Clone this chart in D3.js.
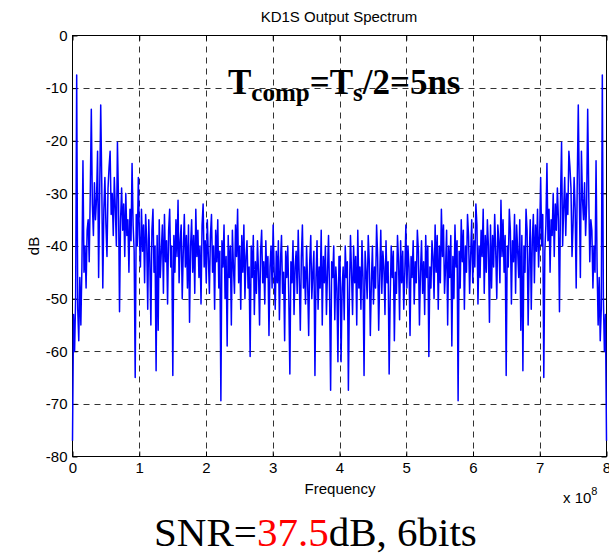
<!DOCTYPE html>
<html><head><meta charset="utf-8">
<script src="https://cdn.jsdelivr.net/npm/d3@7"></script>
<style>html,body{margin:0;padding:0;background:#fff;} svg{display:block}</style>
</head><body><div id="chart"></div>
<script>
// Spectrum magnitude (dB), first half of the bins (0 .. 4e8 Hz)
const dbLow = [
 -77, -53, -60, -50, -7.5, -52, -58, -46, -55, -44, -23.8, -45, -40, -48, -37, -35,
 -43, -30, -14, -32, -38, -28, -35, -31, -22, -46, -30, -13.2, -28, -48, -33, -27,
 -36, -42, -29, -25, -22, -34, -30, -38, -27, -33, -40, -20.3, -31, -52.5, -35, -29,
 -37, -32, -42, -30, -38, -35, -45, -33, -39, -24.3, -36, -41, -65, -34, -40, -27,
 -38, -44, -33, -41, -36, -47, -34, -39, -52, -35, -43, -55, -37, -33, -45, -40,
 -63.7, -38, -56, -35, -46, -41, -36, -49, -34, -43, -39, -51, -37, -33, -44, -40,
 -64.6, -38, -45, -35, -42, -31.3, -47, -39, -36, -50, -41, -34, -44, -38, -48, -36,
 -54.5, -40, -35, -45, -38, -49, -33, -42, -37, -46, -40, -51, -36, -32, -44, -39,
 -47, -35, -42, -49, -38, -34, -45, -40, -52, -37, -43, -35, -48, -41, -69.4, -39,
 -44, -36, -50, -42, -59, -38, -46, -40, -55, -37, -44, -49, -36, -42, -33, -47,
 -40, -52, -38, -45, -36, -50, -42, -39, -48, -44, -61, -40, -46, -38, -53, -43,
 -49, -39, -45, -55, -41, -37, -47, -43, -51, -39, -46, -42, -57, -44, -40, -48,
 -36, -45, -52, -41, -47, -39, -54, -43, -38, -49, -45, -58, -41, -46, -40, -50,
 -64.3, -43, -47, -39, -53, -44, -41, -49, -37, -46, -56, -42, -36, -48, -44, -51,
 -40, -47, -57, -43, -38, -50, -45, -41, -64.6, -46, -39, -52, -44, -48, -37, -55,
 -42, -47, -40, -53, -45, -38, -49, -67.4, -43, -46, -40, -54, -44, -48, -62, -42
];
// Spectrum magnitude (dB), second half of the bins (4e8 .. 8e8 Hz)
const dbHigh = [
 -42, -62, -48, -44, -54, -40, -46, -43, -67.4, -49, -38, -45, -53, -40, -47, -42,
 -55, -37, -48, -44, -52, -39, -46, -64.6, -41, -45, -50, -38, -43, -57, -47, -40,
 -51, -44, -48, -36, -42, -56, -46, -37, -49, -41, -44, -53, -39, -47, -43, -64.3,
 -50, -40, -46, -41, -58, -45, -49, -38, -43, -54, -39, -47, -41, -52, -45, -36,
 -48, -40, -44, -57, -42, -46, -39, -51, -43, -47, -37, -41, -55, -45, -39, -49,
 -43, -53, -38, -46, -40, -61, -44, -48, -39, -42, -50, -36, -45, -38, -52, -40,
 -47, -33, -42, -36, -49, -44, -37, -55, -40, -46, -38, -59, -42, -50, -36, -44,
 -39, -69.4, -41, -48, -35, -43, -37, -52, -40, -45, -34, -38, -49, -42, -35, -47,
 -39, -44, -32, -36, -51, -40, -46, -37, -42, -33, -49, -38, -45, -35, -40, -54.5,
 -36, -48, -38, -44, -34, -41, -50, -36, -39, -47, -31.3, -42, -35, -45, -38, -64.6,
 -40, -44, -33, -37, -51, -39, -43, -34, -49, -36, -41, -46, -35, -56, -38, -63.7,
 -40, -45, -33, -37, -55, -43, -35, -52, -39, -34, -47, -36, -41, -33, -44, -38,
 -27, -40, -34, -65, -41, -36, -24.3, -39, -33, -45, -35, -38, -30, -42, -32, -37,
 -29, -35, -52.5, -31, -20.3, -40, -33, -27, -38, -30, -34, -22, -25, -29, -42, -36,
 -27, -33, -48, -28, -13.2, -30, -46, -22, -31, -35, -28, -38, -32, -14, -30, -43,
 -35, -37, -48, -40, -45, -23.8, -44, -55, -46, -58, -52, -7.5, -50, -60, -53, -77
];
const xTicks = [0, 1, 2, 3, 4, 5, 6, 7, 8];
const yTicks = [0, -10, -20, -30, -40, -50, -60, -70, -80];
const titleText = "KD1S Output Spectrum";
const xLabel = "Frequency";
const yLabel = "dB";

const W = 609, H = 554;
const svg = d3.select("#chart").append("svg").attr("width", W).attr("height", H)
  .style("font-family", "'Liberation Sans', Arial, sans-serif");
svg.append("rect").attr("width", W).attr("height", H).attr("fill", "#fff");

const L = 72.5, R = 606.5, T = 35.5, B = 456.5;
const x = d3.scaleLinear().domain([0, 8]).range([L, R]);
const y = d3.scaleLinear().domain([-80, 0]).range([B, T]);

const spectrum = dbLow.concat(dbHigh);
const n = spectrum.length;
const pts = spectrum.map((v, i) => ({f: i * 8 / (n - 1), v}));

// grid
const grid = svg.append("g").attr("stroke", "#333").attr("stroke-width", 1).attr("stroke-dasharray", "6,5");
grid.selectAll("line.gx").data(xTicks.slice(1, -1)).join("line")
  .attr("x1", d => Math.round(x(d)) + 0.5).attr("x2", d => Math.round(x(d)) + 0.5).attr("y1", T).attr("y2", B);
grid.selectAll("line.gy").data(yTicks.slice(1, -1)).join("line")
  .attr("y1", d => Math.round(y(d)) + 0.5).attr("y2", d => Math.round(y(d)) + 0.5).attr("x1", L).attr("x2", R);

// axes
const fs = "15px";
const ax = svg.append("g").attr("transform", `translate(0,${B})`)
  .call(d3.axisBottom(x).tickValues(xTicks).tickSize(-5).tickPadding(6).tickFormat(d3.format("d")));
const ay = svg.append("g").attr("transform", `translate(${L},0)`)
  .call(d3.axisLeft(y).tickValues(yTicks).tickSize(-5).tickPadding(5).tickFormat(d => d === 0 ? "0" : "-" + Math.abs(d)));
const at = svg.append("g").attr("transform", `translate(0,${T})`)
  .call(d3.axisTop(x).tickValues(xTicks).tickSize(-5).tickFormat(""));
const ar = svg.append("g").attr("transform", `translate(${R},0)`)
  .call(d3.axisRight(y).tickValues(yTicks).tickSize(-5).tickFormat(""));
[ax, ay, at, ar].forEach(g => {
  g.select(".domain").remove();
  g.selectAll("text").attr("font-size", fs).attr("fill", "#000")
    .style("font-family", "'Liberation Sans', Arial, sans-serif");
  g.selectAll("line").attr("stroke", "#000");
});
svg.append("rect").attr("x", L).attr("y", T).attr("width", R - L).attr("height", B - T)
  .attr("fill", "none").attr("stroke", "#000").attr("stroke-width", 1);

// data line (drawn over the box, as in the reference)
const line = d3.line().x(d => x(d.f)).y(d => y(d.v));
svg.append("path").datum(pts).attr("d", line).attr("fill", "none")
  .attr("stroke", "#0000ff").attr("stroke-width", 1.5).attr("stroke-linejoin", "round");

// labels
svg.append("text").attr("x", 339).attr("y", 22).attr("text-anchor", "middle")
  .attr("font-size", "15px").text(titleText);
svg.append("text").attr("x", 340).attr("y", 494).attr("text-anchor", "middle")
  .attr("font-size", "15px").text(xLabel);
svg.append("text").attr("transform", "translate(39,246) rotate(-90)").attr("text-anchor", "middle")
  .attr("font-size", "15px").text(yLabel);
const exp = svg.append("text").attr("x", 563).attr("y", 503).attr("font-size", "15px");
exp.append("tspan").text("x 10");
exp.append("tspan").attr("dy", -8).attr("font-size", "11px").text("8");

// annotation
const ann = svg.append("text").attr("x", 228).attr("y", 94)
  .attr("font-family", "'Liberation Serif', 'Times New Roman', serif")
  .attr("font-weight", "bold").attr("font-size", "35px").attr("fill", "#000");
ann.append("tspan").text("T");
ann.append("tspan").attr("font-size", "25px").attr("dy", 7).text("comp");
ann.append("tspan").attr("dy", -7).text("=T");
ann.append("tspan").attr("font-size", "25px").attr("dy", 7).text("s");
ann.append("tspan").attr("dy", -7).text("/2=5ns");

// SNR caption
const snr = svg.append("text").attr("x", 154).attr("y", 546)
  .attr("font-family", "'Liberation Serif', 'Times New Roman', serif")
  .attr("font-size", "41px").attr("fill", "#000");
snr.append("tspan").text("SNR=");
snr.append("tspan").attr("fill", "#ff0000").text("37.5");
snr.append("tspan").text("dB, 6bits");
</script></body></html>
